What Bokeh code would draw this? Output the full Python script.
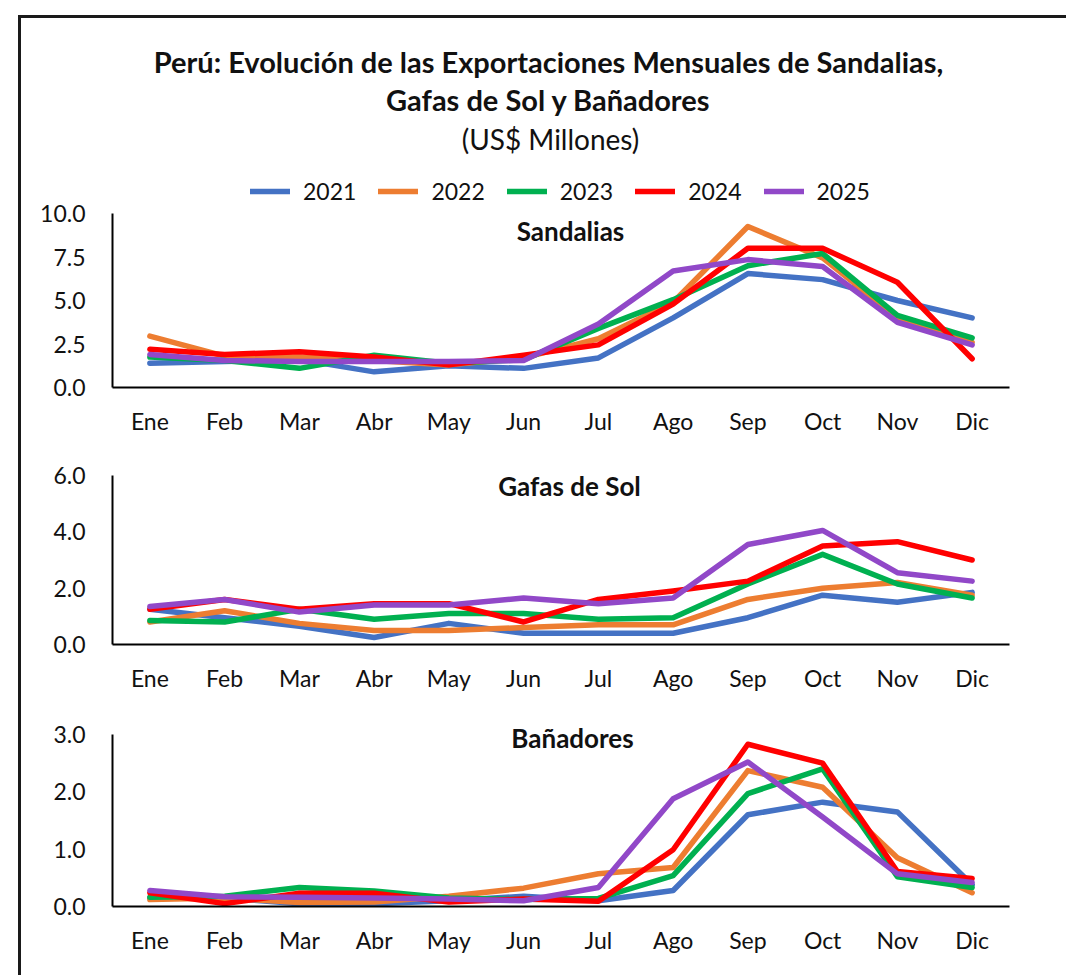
from bokeh.plotting import figure
from bokeh.layouts import column
from bokeh.models import (FactorRange, Range1d, FixedTicker, NumeralTickFormatter,
                          Label, Legend, LegendItem)
from bokeh.embed import file_html
from bokeh.resources import INLINE

# ---------------- data ----------------
months = ["Ene", "Feb", "Mar", "Abr", "May", "Jun", "Jul", "Ago", "Sep", "Oct", "Nov", "Dic"]
years = ["2021", "2022", "2023", "2024", "2025"]

sandalias_2021 = [1.4, 1.5, 1.6, 0.9, 1.25, 1.1, 1.7, 4.0, 6.55, 6.2, 5.0, 4.0]
sandalias_2022 = [2.95, 1.8, 1.75, 1.55, 1.3, 1.7, 2.8, 4.9, 9.25, 7.45, 4.0, 2.6]
sandalias_2023 = [1.75, 1.55, 1.1, 1.85, 1.4, 1.6, 3.4, 5.05, 7.0, 7.7, 4.15, 2.85]
sandalias_2024 = [2.2, 1.9, 2.05, 1.75, 1.3, 1.85, 2.45, 4.8, 8.0, 8.0, 6.05, 1.65]
sandalias_2025 = [1.9, 1.55, 1.5, 1.5, 1.5, 1.55, 3.65, 6.7, 7.35, 6.95, 3.75, 2.45]

gafas_2021 = [1.25, 0.95, 0.65, 0.25, 0.75, 0.4, 0.4, 0.4, 0.95, 1.75, 1.5, 1.85]
gafas_2022 = [0.8, 1.2, 0.75, 0.5, 0.5, 0.6, 0.7, 0.7, 1.6, 2.0, 2.2, 1.75]
gafas_2023 = [0.85, 0.8, 1.25, 0.9, 1.1, 1.1, 0.9, 0.95, 2.15, 3.2, 2.15, 1.65]
gafas_2024 = [1.25, 1.6, 1.25, 1.45, 1.45, 0.8, 1.6, 1.9, 2.25, 3.5, 3.65, 3.0]
gafas_2025 = [1.35, 1.6, 1.15, 1.4, 1.4, 1.65, 1.45, 1.65, 3.55, 4.05, 2.55, 2.25]

banadores_2021 = [0.15, 0.15, 0.05, 0.05, 0.1, 0.18, 0.1, 0.28, 1.6, 1.82, 1.65, 0.38]
banadores_2022 = [0.12, 0.15, 0.07, 0.08, 0.18, 0.32, 0.57, 0.68, 2.37, 2.08, 0.85, 0.24]
banadores_2023 = [0.16, 0.18, 0.33, 0.27, 0.15, 0.12, 0.14, 0.54, 1.97, 2.4, 0.52, 0.33]
banadores_2024 = [0.24, 0.05, 0.23, 0.23, 0.08, 0.13, 0.09, 0.99, 2.83, 2.5, 0.61, 0.49]
banadores_2025 = [0.28, 0.17, 0.16, 0.15, 0.13, 0.1, 0.33, 1.88, 2.52, 1.56, 0.57, 0.42]

sandalias_ticks = [0, 2.5, 5, 7.5, 10]
gafas_ticks = [0, 2, 4, 6]
banadores_ticks = [0, 1, 2, 3]

colors = ["#4472C4", "#ED7D31", "#00B050", "#FF0000", "#9148C8"]

FONT = "Lato"
TXT = "#111111"
WIDTH = 1045
X0 = 21  # page x of the figures' left edge (18px margin + 3px border)


def make_panel(series, ticks, fig_top, fig_bottom, frame_top, axis_top, axis_bottom,
               left_page, right_page):
    ymax = ticks[-1]
    px_per_unit = (axis_bottom - axis_top) / ymax
    y_end = (axis_bottom - frame_top) / px_per_unit
    p = figure(x_range=FactorRange(*months), y_range=Range1d(0, y_end),
               width=WIDTH, height=fig_bottom - fig_top, output_backend="svg",
               toolbar_location=None,
               min_border_left=left_page - X0, min_border_right=WIDTH - (right_page - X0),
               min_border_top=frame_top - fig_top, min_border_bottom=fig_bottom - axis_bottom)
    p.outline_line_color = None
    p.grid.grid_line_color = None
    p.background_fill_color = "white"
    p.border_fill_color = "white"
    renderers = []
    for vals, col in zip(series, colors):
        r = p.line(months, vals, line_color=col, line_width=5.5,
                   line_join="round", line_cap="round")
        renderers.append(r)
    ya = p.yaxis[0]
    ya.ticker = FixedTicker(ticks=ticks)
    ya.bounds = (0, ymax)
    ya.formatter = NumeralTickFormatter(format="0.0")
    ya.major_tick_line_color = None
    ya.minor_tick_line_color = None
    ya.axis_line_color = "black"
    ya.axis_line_width = 2
    ya.major_label_text_font = FONT
    ya.major_label_text_font_size = "23px"
    ya.major_label_text_color = TXT
    ya.major_label_standoff = 21
    xa = p.xaxis[0]
    xa.major_tick_line_color = None
    xa.minor_tick_line_color = None
    xa.axis_line_color = "black"
    xa.axis_line_width = 2
    xa.major_label_text_font = FONT
    xa.major_label_text_font_size = "23px"
    xa.major_label_text_color = TXT
    xa.major_label_standoff = 13
    return p, renderers


p1, rs1 = make_panel([sandalias_2021, sandalias_2022, sandalias_2023, sandalias_2024, sandalias_2025],
                     sandalias_ticks, fig_top=18, fig_bottom=448, frame_top=18,
                     axis_top=213, axis_bottom=387, left_page=112, right_page=1020)
p2, rs2 = make_panel([gafas_2021, gafas_2022, gafas_2023, gafas_2024, gafas_2025],
                     gafas_ticks, fig_top=448, fig_bottom=708, frame_top=460,
                     axis_top=475, axis_bottom=644, left_page=111, right_page=1012)
p3, rs3 = make_panel([banadores_2021, banadores_2022, banadores_2023, banadores_2024, banadores_2025],
                     banadores_ticks, fig_top=708, fig_bottom=975, frame_top=718,
                     axis_top=734, axis_bottom=906, left_page=108, right_page=1009)


def add_text(p, text, page_x, page_y, left_page, axis_bottom, size, bold=True):
    p.add_layout(Label(x=page_x - left_page, y=axis_bottom - page_y,
                       x_units="screen", y_units="screen", text=text,
                       text_align="center", text_baseline="middle", text_font=FONT,
                       text_font_style="bold" if bold else "normal",
                       text_font_size=size, text_color=TXT))


add_text(p1, "Perú: Evolución de las Exportaciones Mensuales de Sandalias,", 548, 61, 112, 387, "29px")
add_text(p1, "Gafas de Sol y Bañadores", 548, 99, 112, 387, "29px")
add_text(p1, "(US$ Millones)", 550, 138, 112, 387, "28px", bold=False)
add_text(p1, "Sandalias", 570, 230, 112, 387, "26px")
add_text(p2, "Gafas de Sol", 568, 485, 111, 644, "26px")
add_text(p3, "Bañadores", 568, 737, 108, 906, "26px")

legend = Legend(items=[LegendItem(label=y, renderers=[r]) for y, r in zip(years, rs1)],
                orientation="horizontal", location=(138, 182),
                glyph_width=40, glyph_height=20, label_standoff=13, spacing=22,
                padding=0, margin=0, border_line_color=None, background_fill_alpha=0,
                label_text_font=FONT, label_text_font_size="23px", label_text_color=TXT)
p1.add_layout(legend)

layout = column(p1, p2, p3,
                styles={"margin-left": "18px", "margin-top": "15px",
                        "border-left": "3px solid #1a1a1a", "border-top": "3px solid #1a1a1a"})

open("out.html", "w").write(file_html(layout, INLINE))
